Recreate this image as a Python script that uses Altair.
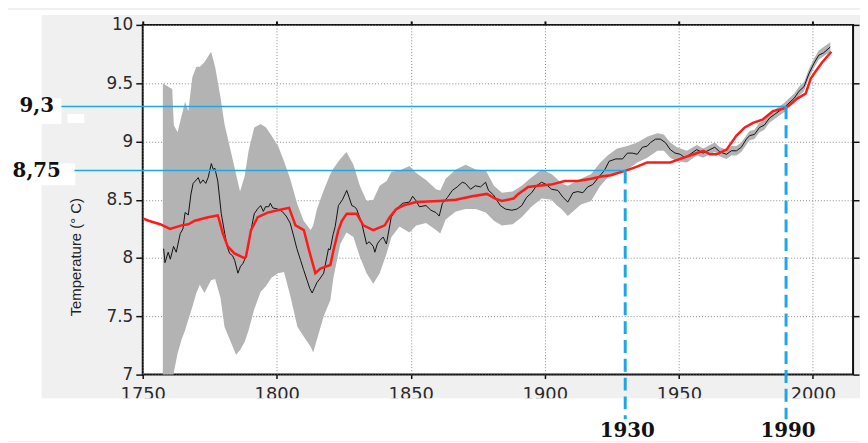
import altair as alt
import pandas as pd

# ---------------- data ----------------
band_year = [1757.5, 1759.5, 1761.0, 1761.6, 1763.0, 1764.5, 1765.8, 1767.0, 1768.5, 1770.0,
             1771.3, 1773.0, 1775.5, 1777.0, 1779.0, 1780.5, 1783.0, 1784.8, 1786.3, 1788.0,
             1789.5, 1791.6, 1794.0, 1796.0, 1798.0, 1800.5, 1802.7, 1805.0, 1807.7, 1810.0,
             1812.6, 1813.6, 1815.0, 1817.5, 1820.0, 1821.2, 1823.7, 1826.0, 1828.6, 1831.0,
             1833.5, 1836.0, 1838.4, 1841.0, 1842.8, 1845.8, 1849.5, 1852.0, 1855.7, 1859.4,
             1861.0, 1863.0, 1866.8, 1870.5, 1874.2, 1878.0, 1881.0, 1884.0, 1888.0, 1891.4,
             1895.0, 1898.8, 1902.5, 1904.5, 1906.2, 1908.6, 1911.0, 1913.5, 1917.3, 1920.4,
             1923.4, 1927.0, 1930.8, 1934.5, 1938.2, 1942.0, 1944.4, 1946.8, 1949.3, 1953.0,
             1956.7, 1959.1, 1961.6, 1963.4, 1965.3, 1967.8, 1969.6, 1971.5, 1973.3, 1976.4,
             1978.2, 1980.1, 1981.9, 1983.8, 1985.6, 1987.4, 1989.3, 1991.1, 1993.0, 1994.8,
             1996.7, 1998.5, 2000.4, 2002.2, 2004.0, 2006.5]
band_low = [6.80, 6.88, 6.96, 7.02, 7.18, 7.30, 7.38, 7.47, 7.58, 7.70,
            7.77, 7.70, 7.81, 7.82, 7.66, 7.41, 7.27, 7.17, 7.21, 7.28,
            7.38, 7.56, 7.71, 7.76, 7.83, 7.87, 7.88, 7.68, 7.41, 7.33,
            7.24, 7.19, 7.30, 7.50, 7.64, 7.84, 8.12, 8.22, 8.18, 8.01,
            7.87, 7.78, 7.87, 8.04, 8.18, 8.27, 8.22, 8.28, 8.30, 8.24,
            8.21, 8.33, 8.40, 8.42, 8.42, 8.39, 8.32, 8.28, 8.29, 8.35,
            8.44, 8.51, 8.50, 8.45, 8.42, 8.36, 8.41, 8.46, 8.49, 8.61,
            8.69, 8.73, 8.76, 8.82, 8.86, 8.92, 8.92, 8.86, 8.83, 8.82,
            8.88, 8.86, 8.89, 8.91, 8.87, 8.85, 8.88, 8.88, 8.91, 9.01,
            9.02, 9.08, 9.10, 9.16, 9.19, 9.22, 9.25, 9.29, 9.33, 9.39,
            9.43, 9.54, 9.63, 9.70, 9.73, 9.77]
band_high = [9.50, 9.47, 9.45, 9.14, 9.08, 9.22, 9.34, 9.26, 9.55, 9.64,
             9.64, 9.68, 9.77, 9.64, 9.38, 9.15, 8.90, 8.72, 8.57, 8.70,
             8.92, 9.12, 9.15, 9.12, 9.05, 8.96, 8.83, 8.68, 8.46, 8.32,
             8.24, 8.28, 8.42, 8.58, 8.72, 8.77, 8.85, 8.91, 8.80, 8.62,
             8.49, 8.50, 8.62, 8.66, 8.74, 8.75, 8.79, 8.73, 8.67, 8.59,
             8.58, 8.68, 8.76, 8.80, 8.76, 8.75, 8.62, 8.56, 8.57, 8.62,
             8.69, 8.76, 8.72, 8.68, 8.64, 8.62, 8.65, 8.68, 8.72, 8.81,
             8.88, 8.94, 8.96, 8.99, 9.04, 9.07, 9.06, 8.99, 8.95, 8.92,
             8.97, 8.94, 8.97, 8.99, 8.95, 8.93, 8.96, 8.96, 8.99, 9.09,
             9.10, 9.16, 9.18, 9.24, 9.27, 9.30, 9.33, 9.37, 9.41, 9.47,
             9.51, 9.62, 9.71, 9.78, 9.81, 9.85]

obs_year = [1757.8, 1758.3, 1759.5, 1760.3, 1761.5, 1762.5, 1764.0, 1765.0, 1765.8, 1767.0,
            1768.0, 1768.8, 1770.0, 1770.7, 1771.5, 1772.5, 1773.5, 1774.4, 1775.6, 1776.3,
            1776.9, 1778.0, 1779.3, 1780.6, 1781.5, 1782.4, 1783.5, 1784.3, 1785.5, 1786.5,
            1787.3, 1788.5, 1789.5, 1790.4, 1791.6, 1792.8, 1794.0, 1795.0, 1795.8, 1797.0,
            1797.6, 1798.5, 1800.3, 1802.0, 1803.5, 1805.0, 1806.4, 1807.5, 1808.9, 1810.0,
            1811.3, 1812.3, 1813.2, 1814.0, 1815.0, 1816.0, 1817.5, 1818.7, 1819.3, 1819.9,
            1821.0, 1821.8, 1823.0, 1824.5, 1825.5, 1826.1, 1827.0, 1828.0, 1829.0, 1829.8,
            1831.7, 1833.5, 1834.5, 1836.0, 1836.6, 1837.5, 1838.4, 1839.7, 1840.9, 1842.7,
            1844.6, 1847.0, 1849.5, 1850.7, 1852.0, 1853.2, 1855.7, 1857.5, 1859.4, 1860.6,
            1861.8, 1863.7, 1865.5, 1867.3, 1869.2, 1870.4, 1872.3, 1874.1, 1876.0, 1877.9,
            1879.0, 1880.9, 1883.4, 1885.3, 1887.7, 1889.6, 1891.4, 1893.2, 1895.1, 1896.9,
            1898.8, 1900.6, 1902.5, 1904.9, 1906.8, 1908.6, 1910.5, 1912.3, 1914.2, 1916.0,
            1917.9, 1920.3, 1922.2, 1924.0, 1926.5, 1929.0, 1930.8, 1932.6, 1934.5, 1936.4,
            1938.2, 1939.4, 1941.3, 1943.1, 1945.0, 1946.8, 1948.6, 1950.5, 1952.3, 1954.2,
            1956.7, 1959.1, 1961.6, 1963.4, 1965.3, 1967.8, 1969.6, 1971.5, 1973.3, 1975.2,
            1976.4, 1978.2, 1980.1, 1981.9, 1983.8, 1985.6, 1987.4, 1989.3, 1991.1, 1993.0,
            1994.8, 1996.7, 1998.5, 2000.4, 2002.2, 2004.0, 2006.5]
obs_temp = [8.08, 7.96, 8.05, 7.99, 8.10, 8.05, 8.21, 8.25, 8.39, 8.37,
            8.55, 8.64, 8.67, 8.69, 8.64, 8.67, 8.64, 8.69, 8.81, 8.76,
            8.77, 8.66, 8.38, 8.21, 8.10, 8.04, 8.02, 7.98, 7.87, 7.93,
            7.95, 8.01, 8.12, 8.24, 8.38, 8.42, 8.45, 8.40, 8.44, 8.44,
            8.47, 8.43, 8.42, 8.40, 8.36, 8.30, 8.18, 8.08, 7.98, 7.90,
            7.81, 7.74, 7.70, 7.74, 7.79, 7.82, 7.87, 8.01, 8.08, 8.07,
            8.20, 8.27, 8.45, 8.50, 8.55, 8.58, 8.52, 8.45, 8.44, 8.42,
            8.30, 8.12, 8.14, 8.10, 8.05, 8.12, 8.15, 8.18, 8.12, 8.35,
            8.42, 8.47, 8.48, 8.53, 8.49, 8.44, 8.45, 8.41, 8.39, 8.36,
            8.47, 8.52, 8.58, 8.61, 8.65, 8.64, 8.59, 8.62, 8.61, 8.65,
            8.58, 8.54, 8.45, 8.42, 8.41, 8.42, 8.45, 8.52, 8.56, 8.62,
            8.65, 8.63, 8.59, 8.58, 8.52, 8.48, 8.56, 8.57, 8.56, 8.61,
            8.63, 8.70, 8.75, 8.83, 8.85, 8.85, 8.90, 8.90, 8.89, 8.95,
            8.96, 8.99, 9.02, 9.02, 8.99, 8.93, 8.90, 8.89, 8.86, 8.89,
            8.93, 8.90, 8.93, 8.95, 8.91, 8.89, 8.92, 8.92, 8.95, 9.02,
            9.05, 9.06, 9.12, 9.14, 9.20, 9.23, 9.26, 9.29, 9.33, 9.37,
            9.43, 9.47, 9.58, 9.67, 9.74, 9.76, 9.81]

fit_year = [1750.0, 1752.2, 1756.5, 1760.2, 1764.5, 1767.0, 1769.4, 1774.4, 1778.0, 1778.6,
            1779.9, 1781.7, 1784.2, 1787.9, 1788.5, 1790.4, 1792.9, 1796.6, 1800.3, 1804.6,
            1807.0, 1810.1, 1812.0, 1814.4, 1816.3, 1820.0, 1821.2, 1823.0, 1824.3, 1826.1,
            1829.8, 1832.3, 1836.0, 1840.3, 1842.1, 1844.6, 1847.1, 1852.0, 1860.6, 1866.8,
            1872.9, 1878.4, 1881.5, 1884.0, 1888.3, 1890.1, 1893.8, 1897.5, 1902.4, 1907.4,
            1912.3, 1917.3, 1921.0, 1924.6, 1930.2, 1933.9, 1938.2, 1941.9, 1946.8, 1950.5,
            1955.5, 1959.2, 1961.6, 1964.1, 1967.8, 1971.5, 1974.6, 1977.7, 1981.4, 1985.1,
            1988.8, 1991.2, 1994.3, 1997.3, 1999.2, 2001.0, 2003.5, 2006.9]
fit_temp = [8.34, 8.32, 8.29, 8.25, 8.28, 8.29, 8.32, 8.35, 8.365, 8.32,
            8.21, 8.10, 8.04, 8.00, 8.01, 8.24, 8.35, 8.39, 8.41, 8.43,
            8.28, 8.24, 8.07, 7.87, 7.91, 7.94, 8.07, 8.24, 8.32, 8.38,
            8.38, 8.28, 8.24, 8.28, 8.35, 8.42, 8.45, 8.48, 8.49, 8.50,
            8.53, 8.55, 8.51, 8.49, 8.51, 8.55, 8.61, 8.62, 8.63, 8.66,
            8.66, 8.68, 8.70, 8.71, 8.75, 8.78, 8.82, 8.82, 8.82, 8.85,
            8.89, 8.92, 8.89, 8.89, 8.93, 9.05, 9.12, 9.16, 9.19, 9.26,
            9.28, 9.31, 9.37, 9.41, 9.54, 9.60, 9.68, 9.77]

x_ticks = [1750, 1800, 1850, 1900, 1950, 2000]
y_ticks = [7, 7.5, 8, 8.5, 9, 9.5, 10]

mark_years = [1930, 1990]
mark_temps = [8.75, 9.3]
mark_year_labels = ["1930", "1990"]
mark_temp_labels = ["8,75", "9,3"]

y_title = "Temperature (° C)"

# ---------------- chart ----------------
band_df = pd.DataFrame({"year": band_year, "low": band_low, "high": band_high})
obs_df = pd.DataFrame({"year": obs_year, "temp": obs_temp})
fit_df = pd.DataFrame({"year": fit_year, "temp": fit_temp})
marks_df = pd.DataFrame({"year": mark_years, "temp": mark_temps,
                         "ylab": mark_year_labels, "tlab": mark_temp_labels})
dummy = pd.DataFrame({"k": [0]})

xs = alt.Scale(domain=[1750, 2015], nice=False, zero=False)
ys = alt.Scale(domain=[7, 10], nice=False, zero=False)

BLUE = "#1fa6e6"
LABEL_FONT = "DejaVu Sans"

bottom_axis = alt.Axis(values=x_ticks, format="d", title=None, orient="bottom",
                       grid=True, gridDash=[1, 2], gridColor="#8a8a8a", gridWidth=1,
                       domain=False, tickColor="#111", tickSize=4, tickWidth=1.5,
                       labelFont=LABEL_FONT, labelFontSize=18, labelColor="#2a2a2a",
                       labelPadding=7, labelFlush=False, labelOverlap=False)
left_axis = alt.Axis(values=y_ticks, format=".2~f", title=y_title, orient="left",
                     grid=True, gridDash=[1, 2], gridColor="#8a8a8a", gridWidth=1,
                     domain=False, tickColor="#111", tickSize=7, tickWidth=1.5,
                     labelFont=LABEL_FONT, labelFontSize=17, labelColor="#2a2a2a",
                     labelPadding=3, labelFlush=False, labelOverlap=False,
                     titleFont="Liberation Sans", titleFontSize=15, titleFontWeight="normal",
                     titleColor="#222", titleAngle=270, titleAlign="center",
                     titleBaseline="middle", titleX=-68, titleY=234)
top_axis = alt.Axis(values=x_ticks, title=None, orient="top", labels=False, grid=False,
                    domain=False, tickColor="#111", tickSize=4, tickWidth=2)
right_axis = alt.Axis(values=y_ticks, title=None, orient="right", labels=False, grid=False,
                      domain=False, tickColor="#111", tickSize=6, tickWidth=1.5)


def deco(color, x1, x2, y1, y2):
    return alt.Chart(dummy).mark_rect(color=color).encode(
        x=alt.value(x1), x2=alt.value(x2), y=alt.value(y1), y2=alt.value(y2))


# white page regions outside the grey panel, and the white patches behind the labels
decos = [
    deco("white", -136, -102, -15, 420),
    deco("white", -136, 724, -15, -10),
    deco("white", -136, 724, 377, 420),
    deco("white", -136, -82, 74, 100),
    deco("white", -76, -59, 90, 99),
    deco("white", -136, -68, 140, 162),
]

band = alt.Chart(band_df).mark_area(color="#b3b3b3", clip=True).encode(
    x=alt.X("year:Q", scale=xs, axis=bottom_axis),
    y=alt.Y("low:Q", scale=ys, axis=left_axis),
    y2="high:Q",
)

obs = alt.Chart(obs_df).mark_line(color="#111111", strokeWidth=1, clip=True).encode(
    x=alt.X("year:Q", scale=xs, axis=top_axis),
    y=alt.Y("temp:Q", scale=ys, axis=right_axis),
)

fit = alt.Chart(fit_df).mark_line(color="#ff1a1a", strokeWidth=2.5, clip=True).encode(
    x=alt.X("year:Q", scale=xs, axis=None),
    y=alt.Y("temp:Q", scale=ys, axis=None),
)

hline_93 = alt.Chart(marks_df).transform_filter(alt.datum.year == 1990).mark_rule(
    color=BLUE, strokeWidth=1.5).encode(
    x=alt.X("year:Q", scale=xs, axis=None), x2=alt.value(-82),
    y=alt.Y("temp:Q", scale=ys, axis=None),
)
hline_875 = alt.Chart(marks_df).transform_filter(alt.datum.year == 1930).mark_rule(
    color=BLUE, strokeWidth=1.5).encode(
    x=alt.X("year:Q", scale=xs, axis=None), x2=alt.value(-69),
    y=alt.Y("temp:Q", scale=ys, axis=None),
)
vlines = alt.Chart(marks_df).mark_rule(color=BLUE, strokeWidth=3, strokeDash=[13, 6]).encode(
    x=alt.X("year:Q", scale=xs, axis=None),
    y=alt.Y("temp:Q", scale=ys, axis=None),
    y2=alt.value(398),
)
year_text = alt.Chart(marks_df).mark_text(
    font="DejaVu Serif", fontWeight="bold", fontSize=20, color="#111",
    align="center", baseline="middle", dx=2).encode(
    x=alt.X("year:Q", scale=xs, axis=None),
    y=alt.value(410),
    text="ylab:N",
)
temp_text = alt.Chart(marks_df).mark_text(
    font="DejaVu Serif", fontWeight="bold", fontSize=20, color="#111",
    align="center", baseline="middle").encode(
    x=alt.value(-107),
    y=alt.Y("temp:Q", scale=ys, axis=None),
    text="tlab:N",
)

chart = alt.layer(
    *decos, band, obs, fit, hline_93, hline_875, vlines, year_text, temp_text
).resolve_axis(
    x="independent", y="independent"
).properties(
    width=717, height=353,
    padding={"left": 136, "top": 15, "right": 7, "bottom": 66},
    autosize=alt.AutoSizeParams(type="none"),
    background="#f0f0f0",
).configure_view(
    fill="white", stroke="#111", strokeWidth=2,
)

chart.save("out.html", embed_options={"renderer": "svg", "actions": False})
